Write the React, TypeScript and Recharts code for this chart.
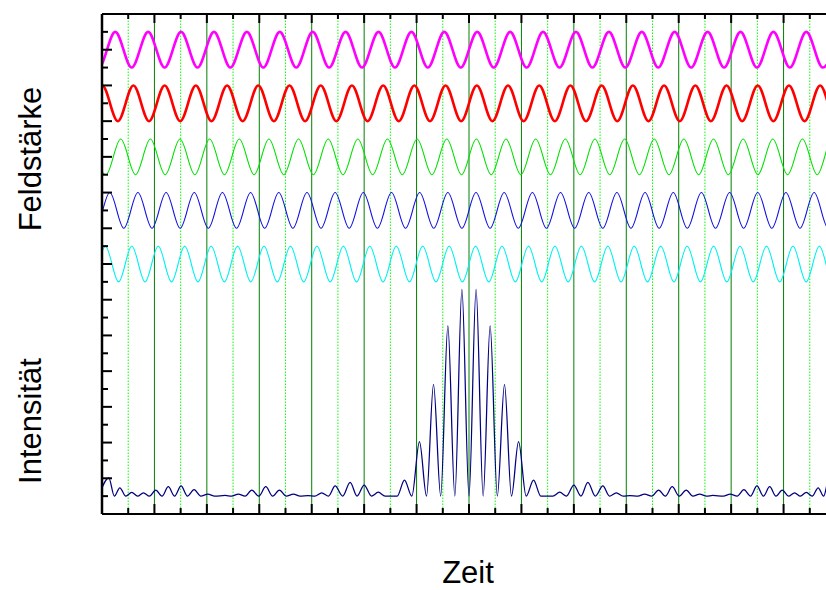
import { LineChart, Line, XAxis, YAxis, ReferenceLine } from "recharts";

// field curves: extrema, [time, value]
const magenta = [
  [-0.375, 27], [-0.061, 25], [0.253, 27], [0.566, 25], [0.88, 27], [1.194, 25], [1.508, 27], [1.822, 25],
  [2.136, 27], [2.449, 25], [2.763, 27], [3.077, 25], [3.391, 27], [3.705, 25], [4.019, 27], [4.332, 25],
  [4.646, 27], [4.96, 25], [5.274, 27], [5.588, 25], [5.902, 27], [6.215, 25], [6.529, 27], [6.843, 25],
  [7.157, 27], [7.471, 25], [7.785, 27], [8.099, 25], [8.413, 27], [8.726, 25], [9.04, 27], [9.354, 25],
  [9.668, 27], [9.982, 25], [10.296, 27], [10.609, 25], [10.923, 27], [11.237, 25], [11.551, 27], [11.865, 25],
  [12.179, 27], [12.492, 25], [12.806, 27], [13.12, 25], [13.434, 27], [13.748, 25], [14.062, 27],
];

const red = [
  [-0.294, 22], [0.004, 24], [0.302, 22], [0.599, 24], [0.897, 22], [1.195, 24], [1.492, 22], [1.79, 24],
  [2.088, 22], [2.386, 24], [2.683, 22], [2.981, 24], [3.279, 22], [3.576, 24], [3.874, 22], [4.172, 24],
  [4.47, 22], [4.767, 24], [5.065, 22], [5.363, 24], [5.66, 22], [5.958, 24], [6.256, 22], [6.553, 24],
  [6.851, 22], [7.149, 24], [7.447, 22], [7.744, 24], [8.042, 22], [8.34, 24], [8.637, 22], [8.935, 24],
  [9.233, 22], [9.53, 24], [9.828, 22], [10.126, 24], [10.424, 22], [10.721, 24], [11.019, 22], [11.317, 24],
  [11.614, 22], [11.912, 24], [12.21, 22], [12.507, 24], [12.805, 22], [13.103, 24], [13.401, 22], [13.698, 24],
  [13.996, 22], [14.294, 24],
];

const green = [
  [-0.208, 21], [0.075, 19], [0.357, 21], [0.64, 19], [0.923, 21], [1.205, 19], [1.488, 21], [1.771, 19],
  [2.053, 21], [2.336, 19], [2.618, 21], [2.901, 19], [3.184, 21], [3.467, 19], [3.749, 21], [4.032, 19],
  [4.315, 21], [4.597, 19], [4.88, 21], [5.163, 19], [5.445, 21], [5.728, 19], [6.01, 21], [6.293, 19],
  [6.576, 21], [6.858, 19], [7.141, 21], [7.424, 19], [7.706, 21], [7.989, 19], [8.272, 21], [8.554, 19],
  [8.837, 21], [9.12, 19], [9.402, 21], [9.685, 19], [9.968, 21], [10.25, 19], [10.533, 21], [10.815, 19],
  [11.098, 21], [11.381, 19], [11.664, 21], [11.946, 19], [12.229, 21], [12.511, 19], [12.794, 21], [13.077, 19],
  [13.36, 21], [13.642, 19], [13.925, 21], [14.207, 19],
];

const blue = [
  [-0.39, 18], [-0.121, 16], [0.148, 18], [0.416, 16], [0.685, 18], [0.954, 16], [1.223, 18], [1.491, 16],
  [1.76, 18], [2.028, 16], [2.297, 18], [2.566, 16], [2.835, 18], [3.103, 16], [3.372, 18], [3.641, 16],
  [3.91, 18], [4.178, 16], [4.447, 18], [4.715, 16], [4.984, 18], [5.253, 16], [5.522, 18], [5.79, 16],
  [6.059, 18], [6.328, 16], [6.597, 18], [6.865, 16], [7.134, 18], [7.402, 16], [7.671, 18], [7.94, 16],
  [8.209, 18], [8.477, 16], [8.746, 18], [9.015, 16], [9.284, 18], [9.552, 16], [9.821, 18], [10.089, 16],
  [10.358, 18], [10.627, 16], [10.896, 18], [11.164, 16], [11.433, 18], [11.702, 16], [11.971, 18], [12.239, 16],
  [12.508, 18], [12.776, 16], [13.045, 18], [13.314, 16], [13.583, 18], [13.851, 16], [14.12, 18],
];

const cyan = [
  [-0.44, 15], [-0.188, 13], [0.064, 15], [0.317, 13], [0.569, 15], [0.821, 13], [1.073, 15], [1.326, 13],
  [1.578, 15], [1.83, 13], [2.082, 15], [2.334, 13], [2.586, 15], [2.839, 13], [3.091, 15], [3.343, 13],
  [3.595, 15], [3.848, 13], [4.1, 15], [4.352, 13], [4.604, 15], [4.856, 13], [5.108, 15], [5.361, 13],
  [5.613, 15], [5.865, 13], [6.117, 15], [6.37, 13], [6.622, 15], [6.874, 13], [7.126, 15], [7.378, 13],
  [7.63, 15], [7.883, 13], [8.135, 15], [8.387, 13], [8.639, 15], [8.892, 13], [9.144, 15], [9.396, 13],
  [9.648, 15], [9.9, 13], [10.152, 15], [10.405, 13], [10.657, 15], [10.909, 13], [11.161, 15], [11.414, 13],
  [11.666, 15], [11.918, 13], [12.17, 15], [12.422, 13], [12.674, 15], [12.927, 13], [13.179, 15], [13.431, 13],
  [13.683, 15], [13.936, 13], [14.188, 15],
];

// intensity curve: extrema
const intensity = [
  [-0.06, 1.0], [0.13, 2.03], [0.235, 1.0], [0.34, 1.47], [0.455, 1.0], [0.567, 1.21], [0.68, 1.0], [0.79, 1.19],
  [0.905, 1.0], [1.025, 1.34], [1.145, 1.0], [1.265, 1.53], [1.385, 1.0], [1.508, 1.57], [1.63, 1.0], [1.756, 1.36],
  [1.885, 1.0], [2.017, 1.12], [2.15, 1.0], [2.35, 1.04], [2.47, 1.0], [2.6, 1.12], [2.73, 1.0], [2.857, 1.34],
  [2.99, 1.0], [3.124, 1.53], [3.255, 1.0], [3.384, 1.34], [3.515, 1.0], [3.651, 1.12], [3.78, 1.0], [3.93, 1.03],
  [4.06, 1.0], [4.19, 1.19], [4.32, 1.0], [4.447, 1.57], [4.59, 1.0], [4.733, 1.77], [4.865, 1.0], [5.0, 1.62],
  [5.14, 1.0], [5.27, 1.22], [5.4, 1.0], [5.63, 1.0], [5.769, 1.9], [5.91, 1.0], [6.055, 4.05], [6.19, 1.0],
  [6.323, 7.26], [6.46, 1.0], [6.597, 10.53], [6.73, 1.0], [6.865, 12.58], [7.0, 1.0],
  [7.135, 12.58], [7.27, 1.0], [7.403, 10.53], [7.54, 1.0], [7.677, 7.26], [7.81, 1.0], [7.945, 4.05], [8.09, 1.0],
  [8.231, 1.9], [8.37, 1.0], [8.6, 1.0], [8.73, 1.22], [8.86, 1.0], [9.0, 1.62], [9.135, 1.0], [9.267, 1.77],
  [9.41, 1.0], [9.553, 1.57], [9.68, 1.0], [9.81, 1.19], [9.94, 1.0], [10.07, 1.03], [10.22, 1.0], [10.349, 1.12],
  [10.485, 1.0], [10.616, 1.34], [10.745, 1.0], [10.876, 1.53], [11.01, 1.0], [11.143, 1.34], [11.27, 1.0], [11.4, 1.12],
  [11.53, 1.0], [11.65, 1.04], [11.85, 1.0], [11.983, 1.12], [12.115, 1.0], [12.244, 1.36], [12.37, 1.0], [12.492, 1.57],
  [12.615, 1.0], [12.735, 1.53], [12.855, 1.0], [12.975, 1.34], [13.095, 1.0], [13.21, 1.19], [13.32, 1.0], [13.433, 1.21],
  [13.545, 1.0], [13.66, 1.47], [13.765, 1.0], [13.87, 2.03], [14.06, 1.0],
];

const timeTicks = [
  0, 0.5, 1, 1.5, 2, 2.5, 3, 3.5, 4, 4.5, 5, 5.5, 6, 6.5, 7, 7.5, 8, 8.5, 9, 9.5, 10, 10.5, 11, 11.5, 12, 12.5,
  13, 13.5, 14,
];
const levelTicks = [
  0, 1, 2, 3, 4, 5, 6, 7, 8, 9, 10, 11, 12, 13, 14, 15, 16, 17, 18, 19, 20, 21, 22, 23, 24, 25, 26, 27, 28,
];
const majorGrid = [1, 2, 3, 4, 5, 6, 7, 8, 9, 10, 11, 12, 13];
const minorGrid = [0.5, 1.5, 2.5, 3.5, 4.5, 5.5, 6.5, 7.5, 8.5, 9.5, 10.5, 11.5, 12.5, 13.5];

const toPts = (arr: number[][]) => arr.map(([t, v]) => ({ t, v }));

const isMajorT = (v: number) => Math.abs(v - Math.round(v)) < 1e-6;

const BottomTick = ({ x, y, payload }: any) => (
  <line x1={x} y1={y} x2={x} y2={y - (isMajorT(payload.value) ? 10 : 6)} stroke="#000" strokeWidth={2} />
);
const TopTick = ({ x, y, payload }: any) => (
  <line x1={x} y1={y} x2={x} y2={y + (isMajorT(payload.value) ? 9 : 5)} stroke="#000" strokeWidth={2} />
);
const LeftTick = ({ x, y, payload }: any) => (
  <line x1={x} y1={y} x2={x + (payload.value % 2 === 0 ? 10 : 6)} y2={y} stroke="#000" strokeWidth={2} />
);
const RightTick = ({ x, y, payload }: any) => (
  <line x1={x} y1={y} x2={x - (payload.value % 2 === 0 ? 10 : 6)} y2={y} stroke="#000" strokeWidth={2} />
);

const labelFont = "'Liberation Sans', Arial, sans-serif";

export default function App() {
  return (
    <div
      style={{
        position: "absolute",
        left: 0,
        top: 0,
        width: 826,
        height: 590,
        overflow: "hidden",
        background: "#fff",
      }}
    >
      <LineChart width={851} height={570} margin={{ top: 0, right: 0, bottom: 26, left: 0 }}>
        <XAxis
          xAxisId={0}
          dataKey="t"
          type="number"
          domain={[0, 14]}
          allowDataOverflow
          ticks={timeTicks}
          interval={0}
          height={30}
          tickSize={0}
          tickMargin={0}
          tick={BottomTick}
          axisLine={{ stroke: "#000", strokeWidth: 2 }}
        />
        <XAxis
          xAxisId="top"
          orientation="top"
          dataKey="t"
          type="number"
          domain={[0, 14]}
          allowDataOverflow
          ticks={timeTicks}
          interval={0}
          height={14}
          tickSize={0}
          tickMargin={0}
          tick={TopTick}
          axisLine={{ stroke: "#000", strokeWidth: 2 }}
        />
        <YAxis
          yAxisId={0}
          type="number"
          domain={[0, 28]}
          allowDataOverflow
          ticks={levelTicks}
          interval={0}
          width={102}
          tickSize={0}
          tickMargin={0}
          tick={LeftTick}
          axisLine={{ stroke: "#000", strokeWidth: 2.5 }}
        />
        <YAxis
          yAxisId="right"
          orientation="right"
          type="number"
          domain={[0, 28]}
          allowDataOverflow
          ticks={levelTicks}
          interval={0}
          width={15}
          tickSize={0}
          tickMargin={0}
          tick={RightTick}
          axisLine={{ stroke: "#000", strokeWidth: 2 }}
        />
        {minorGrid.map((g) => (
          <ReferenceLine key={"m" + g} x={g} stroke="#00ff00" strokeWidth={1} strokeDasharray="1.5 1.5" />
        ))}
        {majorGrid.map((g) => (
          <ReferenceLine key={"M" + g} x={g} stroke="#008000" strokeWidth={1} />
        ))}
        <Line data={toPts(magenta)} dataKey="v" type="monotone" stroke="#ff00ff" strokeWidth={2.6} dot={false} isAnimationActive={false} />
        <Line data={toPts(red)} dataKey="v" type="monotone" stroke="#ff0000" strokeWidth={2.6} dot={false} isAnimationActive={false} />
        <Line data={toPts(green)} dataKey="v" type="monotone" stroke="#00e000" strokeWidth={1.1} dot={false} isAnimationActive={false} />
        <Line data={toPts(blue)} dataKey="v" type="monotone" stroke="#1010e0" strokeWidth={1.1} dot={false} isAnimationActive={false} />
        <Line data={toPts(cyan)} dataKey="v" type="monotone" stroke="#00f0f0" strokeWidth={1.1} dot={false} isAnimationActive={false} />
        <Line data={toPts(intensity)} dataKey="v" type="monotone" stroke="#000080" strokeWidth={1.25} dot={false} isAnimationActive={false} />
      </LineChart>
      <div
        style={{
          position: "absolute",
          left: 30,
          top: 159,
          transform: "translate(-50%, -50%) rotate(-90deg)",
          fontFamily: labelFont,
          fontSize: 31,
          lineHeight: 1,
          whiteSpace: "nowrap",
          color: "#000",
        }}
      >
        Feldstärke
      </div>
      <div
        style={{
          position: "absolute",
          left: 30,
          top: 421,
          transform: "translate(-50%, -50%) rotate(-90deg)",
          fontFamily: labelFont,
          fontSize: 31,
          lineHeight: 1,
          whiteSpace: "nowrap",
          color: "#000",
        }}
      >
        Intensität
      </div>
      <div
        style={{
          position: "absolute",
          left: 468,
          top: 572,
          transform: "translate(-50%, -50%)",
          fontFamily: labelFont,
          fontSize: 31,
          lineHeight: 1,
          whiteSpace: "nowrap",
          color: "#000",
        }}
      >
        Zeit
      </div>
    </div>
  );
}
